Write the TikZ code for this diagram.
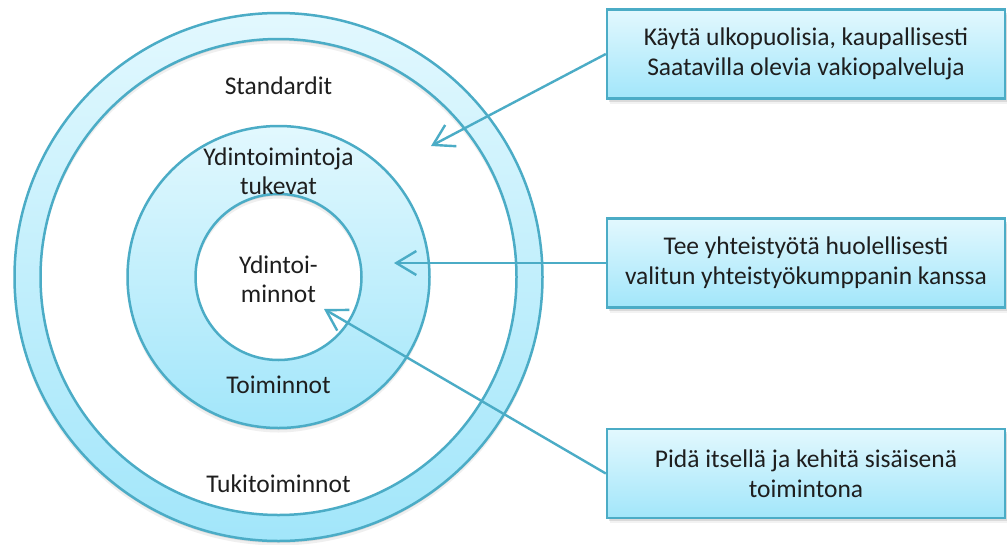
\documentclass[tikz,border=0pt]{standalone}
\usepackage{fontspec}
\setmainfont{Carlito}
\usetikzlibrary{arrows.meta,shadows}
\definecolor{edge}{HTML}{4BACC6}
\definecolor{lite}{HTML}{E2F8FE}
\definecolor{deep}{HTML}{A2E6FA}
\definecolor{txt}{HTML}{1E1E1E}
\begin{document}
\begin{tikzpicture}[x=1pt,y=-1pt,
  lbl/.style={font=\fontsize{25.5}{29}\selectfont, text=txt, align=center, inner sep=0pt},
  softshadow/.style={drop shadow={even odd rule, shadow xshift=0pt, shadow yshift=-2pt, opacity=.18},
                     drop shadow={even odd rule, shadow xshift=0pt, shadow yshift=-4.5pt, opacity=.12}},
  disc/.style={even odd rule, draw=edge, line width=2.5pt, top color=lite, bottom color=deep, softshadow},
  infobox/.style={draw=edge, line width=2.4pt, top color=lite, bottom color=deep,
    minimum width=398pt, minimum height=89pt, inner sep=0pt, align=center,
    font=\fontsize{25.5}{30}\selectfont, text=txt,
    drop shadow={shadow xshift=1.5pt, shadow yshift=-3pt, opacity=.2},
    drop shadow={shadow xshift=2.5pt, shadow yshift=-5pt, opacity=.1}},
  conn/.style={draw=edge, line width=2.4pt, -{Straight Barb[length=20pt,width=24pt]}}
]
\useasboundingbox (0,0) rectangle (1007,544);
\fill[white] (0,0) rectangle (1007,544);

\coordinate (c) at (278.5,277);
% outer ring
\path[disc] (c) circle (264pt) (c) circle (238pt);
% middle donut
\path[disc] (c) circle (151pt) (c) circle (83pt);

% labels
\node[lbl] (std)   at (278.5,85.5)  {Standardit};
\node[lbl] (tuk)   at (278.5,171.5) {Ydintoimintoja\\tukevat};
\node[lbl] (core)  at (278.5,279.5) {Ydintoi-\\minnot};
\node[lbl] (toim)  at (278.5,384.5) {Toiminnot};
\node[lbl] (tukit) at (278.5,483.5) {Tukitoiminnot};

% boxes
\node[infobox] (b1) at (806,54)    {Käytä ulkopuolisia, kaupallisesti\\Saatavilla olevia vakiopalveluja};
\node[infobox] (b2) at (806,263)   {Tee yhteistyötä huolellisesti\\valitun yhteistyökumppanin kanssa};
\node[infobox] (b3) at (806,473.5) {Pidä itsellä ja kehitä sisäisenä\\toimintona};

% arrow targets
\coordinate (t1) at (431,146);
\coordinate (t2) at (394,263);
\coordinate (t3) at (324,309);

\draw[conn] (b1.west) -- (t1);
\draw[conn] (b2.west) -- (t2);
\draw[conn] (b3.west) -- (t3);
\end{tikzpicture}
\end{document}
